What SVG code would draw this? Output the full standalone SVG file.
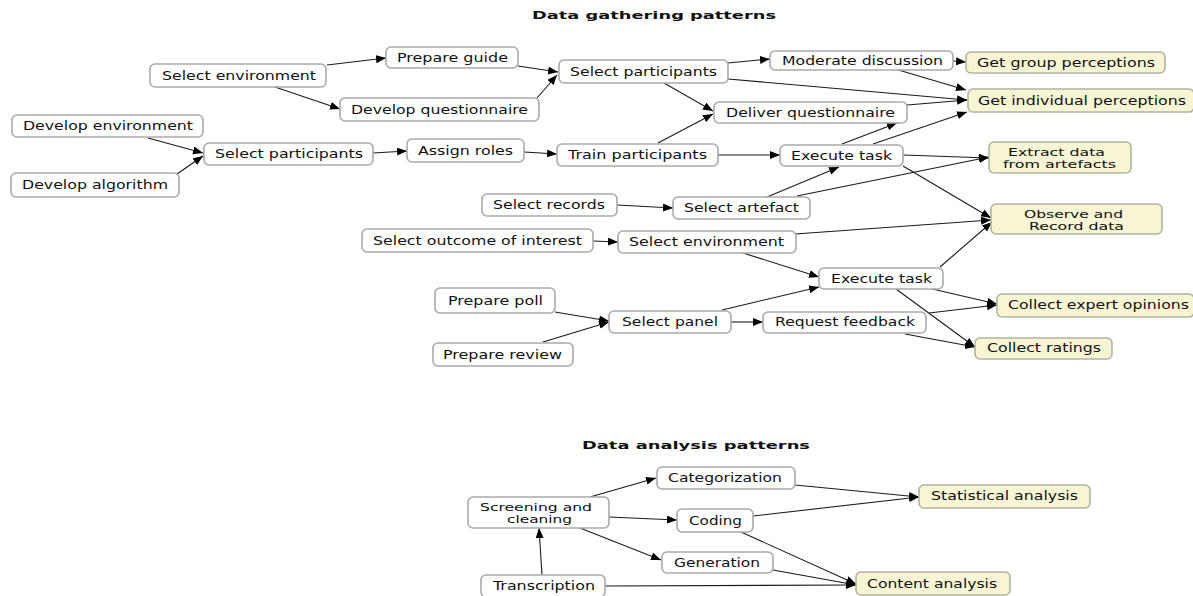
<svg xmlns="http://www.w3.org/2000/svg" width="1193" height="596" viewBox="0 0 1193 596">
<style>
.b{fill:#ffffff;stroke:#aaaaaa;stroke-width:1.6}
.y{fill:#f8f5d4;stroke:#b4b2a0;stroke-width:1.6}
text{font-family:"DejaVu Sans",Verdana,sans-serif;font-size:11.5px;fill:#111}
.s{font-size:10.5px}
.t{font-weight:bold;font-size:11px}
.e line{stroke:#1a1a1a;stroke-width:1.1;marker-end:url(#a)}
</style>
<defs>
<marker id="a" markerUnits="userSpaceOnUse" markerWidth="11" markerHeight="9" refX="10" refY="4" orient="auto"><path d="M0,0 L10,4 L0,8 z" fill="#000"/></marker>
</defs>
<rect width="1193" height="596" fill="#fff"/>
<text class="t" x="532" y="19" textLength="244" lengthAdjust="spacingAndGlyphs">Data gathering patterns</text>
<text class="t" x="582" y="449" textLength="228" lengthAdjust="spacingAndGlyphs">Data analysis patterns</text>
<g class="e" id="connectors">
<line x1="327" y1="65" x2="386" y2="58"/>
<line x1="275" y1="87" x2="340" y2="109"/>
<line x1="148" y1="138" x2="203" y2="153"/>
<line x1="177" y1="174" x2="203" y2="156"/>
<line x1="373" y1="153" x2="407" y2="151"/>
<line x1="518" y1="66" x2="558" y2="72"/>
<line x1="537" y1="98" x2="557" y2="75"/>
<line x1="524" y1="152" x2="557" y2="154"/>
<line x1="728" y1="63" x2="770" y2="59"/>
<line x1="728" y1="79" x2="967" y2="100"/>
<line x1="664" y1="83" x2="713" y2="111"/>
<line x1="658" y1="143" x2="713" y2="114"/>
<line x1="718" y1="155" x2="780" y2="155"/>
<line x1="617" y1="205" x2="673" y2="208"/>
<line x1="953" y1="61" x2="966" y2="62"/>
<line x1="895" y1="69" x2="966" y2="90"/>
<line x1="907" y1="105" x2="967" y2="100"/>
<line x1="842" y1="144" x2="897" y2="123"/>
<line x1="873" y1="144" x2="967" y2="112"/>
<line x1="903" y1="155" x2="989" y2="158"/>
<line x1="797" y1="196" x2="989" y2="157"/>
<line x1="767" y1="197" x2="839" y2="167"/>
<line x1="903" y1="166" x2="991" y2="218"/>
<line x1="593" y1="241" x2="618" y2="242"/>
<line x1="795" y1="234" x2="991" y2="220"/>
<line x1="743" y1="253" x2="819" y2="277"/>
<line x1="940" y1="267" x2="992" y2="222"/>
<line x1="555" y1="312" x2="609" y2="321"/>
<line x1="543" y1="342" x2="609" y2="322"/>
<line x1="722" y1="310" x2="819" y2="287"/>
<line x1="731" y1="322" x2="763" y2="322"/>
<line x1="928" y1="288" x2="997" y2="304"/>
<line x1="929" y1="313" x2="997" y2="305"/>
<line x1="896" y1="289" x2="975" y2="347"/>
<line x1="905" y1="334" x2="975" y2="347"/>
<line x1="590" y1="497" x2="656" y2="478"/>
<line x1="609" y1="517" x2="677" y2="520"/>
<line x1="580" y1="528" x2="661" y2="560"/>
<line x1="542" y1="575" x2="539" y2="528"/>
<line x1="795" y1="485" x2="919" y2="497"/>
<line x1="753" y1="516" x2="919" y2="497"/>
<line x1="741" y1="532" x2="856" y2="584"/>
<line x1="773" y1="570" x2="856" y2="585"/>
<line x1="605" y1="586" x2="856" y2="585"/>
</g>
<g id="n1"><rect class="b" x="150" y="64" width="176" height="23" rx="5"/><text x="162" y="80" textLength="154" lengthAdjust="spacingAndGlyphs">Select environment</text></g>
<g id="n2"><rect class="b" x="386" y="47" width="132" height="21" rx="5"/><text x="397" y="62" textLength="111" lengthAdjust="spacingAndGlyphs">Prepare guide</text></g>
<g id="n3"><rect class="b" x="340" y="98" width="199" height="23" rx="5"/><text x="351" y="114" textLength="177" lengthAdjust="spacingAndGlyphs">Develop questionnaire</text></g>
<g id="n4"><rect class="b" x="559" y="60" width="169" height="23" rx="5"/><text x="570" y="76" textLength="147" lengthAdjust="spacingAndGlyphs">Select participants</text></g>
<g id="n5"><rect class="b" x="770" y="51" width="183" height="19" rx="5"/><text x="782" y="65" textLength="161" lengthAdjust="spacingAndGlyphs">Moderate discussion</text></g>
<g id="n6"><rect class="y" x="966" y="52" width="199" height="21" rx="5"/><text x="977" y="66.5" textLength="178" lengthAdjust="spacingAndGlyphs">Get group perceptions</text></g>
<g id="n7"><rect class="y" x="968" y="89" width="226" height="23" rx="5"/><text x="978" y="104.5" textLength="208" lengthAdjust="spacingAndGlyphs">Get individual perceptions</text></g>
<g id="n8"><rect class="b" x="714" y="102" width="193" height="21" rx="5"/><text x="726" y="116.5" textLength="169" lengthAdjust="spacingAndGlyphs">Deliver questionnaire</text></g>
<g id="n9"><rect class="b" x="12" y="115" width="191" height="22" rx="5"/><text x="23" y="130" textLength="170" lengthAdjust="spacingAndGlyphs">Develop environment</text></g>
<g id="n10"><rect class="b" x="11" y="173" width="168" height="24" rx="5"/><text x="22" y="189" textLength="146" lengthAdjust="spacingAndGlyphs">Develop algorithm</text></g>
<g id="n11"><rect class="b" x="204" y="143" width="169" height="22" rx="5"/><text x="215" y="158" textLength="148" lengthAdjust="spacingAndGlyphs">Select participants</text></g>
<g id="n12"><rect class="b" x="407" y="139" width="117" height="23" rx="5"/><text x="418" y="155" textLength="95" lengthAdjust="spacingAndGlyphs">Assign roles</text></g>
<g id="n13"><rect class="b" x="557" y="144" width="161" height="22" rx="5"/><text x="568" y="159" textLength="139" lengthAdjust="spacingAndGlyphs">Train participants</text></g>
<g id="n14"><rect class="b" x="780" y="145" width="123" height="21" rx="5"/><text x="791" y="160" textLength="101" lengthAdjust="spacingAndGlyphs">Execute task</text></g>
<g id="n15"><rect class="y" x="989" y="142" width="142" height="31" rx="5"/><text class="s" x="1008" y="156" textLength="97" lengthAdjust="spacingAndGlyphs">Extract data</text><text class="s" x="1003" y="168" textLength="113" lengthAdjust="spacingAndGlyphs">from artefacts</text></g>
<g id="n16"><rect class="b" x="482" y="194" width="135" height="22" rx="5"/><text x="493" y="209" textLength="112" lengthAdjust="spacingAndGlyphs">Select records</text></g>
<g id="n17"><rect class="b" x="673" y="197" width="137" height="22" rx="5"/><text x="684" y="212" textLength="115" lengthAdjust="spacingAndGlyphs">Select artefact</text></g>
<g id="n18"><rect class="y" x="991" y="204" width="171" height="30" rx="5"/><text class="s" x="1024" y="217.5" textLength="99" lengthAdjust="spacingAndGlyphs">Observe and</text><text class="s" x="1029" y="229.5" textLength="95" lengthAdjust="spacingAndGlyphs">Record data</text></g>
<g id="n19"><rect class="b" x="362" y="229" width="231" height="23" rx="5"/><text x="373" y="245" textLength="209" lengthAdjust="spacingAndGlyphs">Select outcome of interest</text></g>
<g id="n20"><rect class="b" x="618" y="231" width="178" height="22" rx="5"/><text x="629" y="246" textLength="155" lengthAdjust="spacingAndGlyphs">Select environment</text></g>
<g id="n21"><rect class="b" x="435" y="288" width="120" height="25" rx="5"/><text x="448" y="305" textLength="95" lengthAdjust="spacingAndGlyphs">Prepare poll</text></g>
<g id="n22"><rect class="b" x="433" y="343" width="140" height="23" rx="5"/><text x="443" y="359" textLength="119" lengthAdjust="spacingAndGlyphs">Prepare review</text></g>
<g id="n23"><rect class="b" x="609" y="311" width="122" height="22" rx="5"/><text x="622" y="326" textLength="96" lengthAdjust="spacingAndGlyphs">Select panel</text></g>
<g id="n24"><rect class="b" x="763" y="312" width="163" height="21" rx="5"/><text x="775" y="325.5" textLength="140" lengthAdjust="spacingAndGlyphs">Request feedback</text></g>
<g id="n25"><rect class="b" x="819" y="268" width="124" height="21" rx="5"/><text x="831" y="282.5" textLength="101" lengthAdjust="spacingAndGlyphs">Execute task</text></g>
<g id="n26"><rect class="y" x="997" y="294" width="197" height="23" rx="5"/><text x="1008" y="308.5" textLength="181" lengthAdjust="spacingAndGlyphs">Collect expert opinions</text></g>
<g id="n27"><rect class="y" x="975" y="338" width="137" height="21" rx="5"/><text x="987" y="352" textLength="114" lengthAdjust="spacingAndGlyphs">Collect ratings</text></g>
<g id="n28"><rect class="b" x="657" y="467" width="138" height="22" rx="5"/><text x="668" y="482" textLength="114" lengthAdjust="spacingAndGlyphs">Categorization</text></g>
<g id="n29"><rect class="b" x="468" y="497" width="141" height="31" rx="5"/><text class="s" x="480" y="510.5" textLength="112" lengthAdjust="spacingAndGlyphs">Screening and</text><text class="s" x="507" y="522.5" textLength="65" lengthAdjust="spacingAndGlyphs">cleaning</text></g>
<g id="n30"><rect class="b" x="677" y="509" width="76" height="23" rx="5"/><text x="689" y="525" textLength="53" lengthAdjust="spacingAndGlyphs">Coding</text></g>
<g id="n31"><rect class="b" x="662" y="552" width="111" height="21" rx="5"/><text x="674" y="567" textLength="86" lengthAdjust="spacingAndGlyphs">Generation</text></g>
<g id="n32"><rect class="b" x="481" y="575" width="124" height="22" rx="5"/><text x="493" y="590" textLength="102" lengthAdjust="spacingAndGlyphs">Transcription</text></g>
<g id="n33"><rect class="y" x="856" y="572" width="154" height="23" rx="5"/><text x="867" y="588" textLength="130" lengthAdjust="spacingAndGlyphs">Content analysis</text></g>
<g id="n34"><rect class="y" x="919" y="485" width="171" height="23" rx="5"/><text x="931" y="500" textLength="147" lengthAdjust="spacingAndGlyphs">Statistical analysis</text></g>
</svg>
